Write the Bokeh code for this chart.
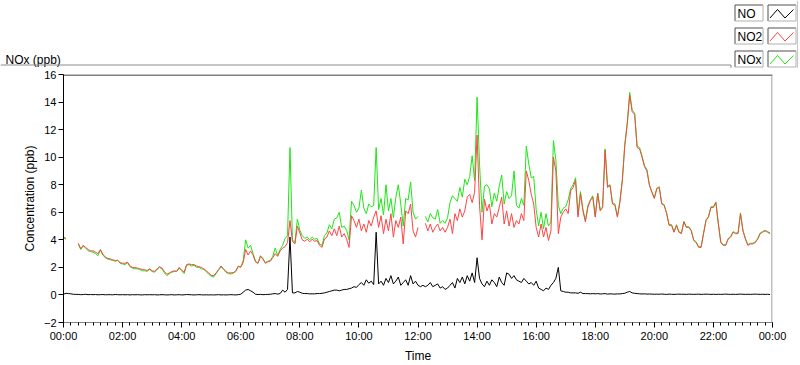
import numpy as np
from bokeh.plotting import figure
from bokeh.layouts import column
from bokeh.models import Range1d, FixedTicker, Arrow
from bokeh.core.properties import value
from bokeh.embed import file_html
from bokeh.resources import INLINE

nan = float("nan")

# ---------------- data (5-minute samples) -------------
SAMPLE_MINUTES = 5

NO2 = [
    4.2, 4.1, nan, 3.95, nan, nan, 3.75, 3.35, 3.6, 3.45, 3.3, 3.2,          # 00h
    3.2, 3.1, 3.0, 3.3, 2.95, 2.75, 2.65, 2.62, 2.55, 2.5, 2.52, 2.35,       # 01h
    2.3, 2.3, 2.38, 2.1, 2.0, 1.98, 1.95, 1.9, 1.85, 1.82, 1.78, 1.9,        # 02h
    1.75, 1.72, 1.88, 2.05, 1.95, 1.7, 1.5, 1.6, 1.7, 1.75, 1.72, 2.0,       # 03h
    1.8, 1.65, 2.2, 2.25, 2.2, 2.2, 2.1, 2.05, 2.0, 1.9, 1.75, 1.6,          # 04h
    1.42, 1.4, 1.6, 1.85, 2.1, 1.9, 1.7, 1.6, 1.6, 1.62, 1.75, 2.1,          # 05h
    2.0, 2.35, 3.3, 2.9, 3.2, 2.9, 2.4, 2.3, 2.8, 2.6, 2.3, 2.4,             # 06h
    2.45, 2.7, 3.0, 2.8, 3.2, 3.4, 3.5, 3.8, 5.4, 3.9, 3.7, 5.0,             # 07h
    4.5, 4.0, 3.9, 4.05, 3.85, 4.05, 3.9, 3.95, 3.6, 3.45, 4.05, 4.2,        # 08h
    4.65, 4.3, 4.8, 4.3, 5.0, 4.2, 4.45, 4.05, 3.45, 5.75, 5.4, 4.9,         # 09h
    5.5, 4.65, 5.15, 4.55, 5.4, 5.0, 5.65, 6.1, 4.9, 5.75, 4.45, 5.5,        # 10h
    4.65, 5.9, 4.2, 5.4, 4.9, 5.65, 3.7, 6.1, 5.9, 6.6, 4.65, 4.2,           # 11h
    4.9, nan, nan, 5.2, 4.65, 5.15, 4.55, 4.9, 5.15, 4.65, 4.9, 4.55,        # 12h
    4.9, 5.5, 4.45, 5.9, 5.4, 6.25, 5.65, 6.1, 7.1, 7.3, 6.7, 7.45,          # 13h
    11.6, 6.5, 4.0, 6.95, 6.1, 6.6, 5.15, 5.9, 5.65, 6.35, 7.1, 5.15,        # 14h
    6.1, 5.0, 5.9, 4.9, 5.4, 5.15, 5.9, 5.4, 9.0, 8.3, 7.3, 6.6,             # 15h
    4.9, 4.2, 5.15, 4.2, 4.9, 3.95, 4.65, 10.0, 9.0, 4.45, 5.65, 6.0,        # 16h
    6.25, 5.9, 7.55, 7.8, 8.3, 5.65, 7.35, 6.1, 5.3, 6.35, 6.85, 7.1,        # 17h
    5.65, 7.35, 6.1, 6.35, 10.5, 7.8, 7.95, 6.6, 6.5, 5.65, 6.7, 8.3,        # 18h
    10.85, 12.4, 14.5, 13.3, 13.1, 10.7, 10.6, 10.0, 9.3, 9.0, 7.95, 7.45,   # 19h
    7.0, 7.7, 7.8, 6.6, 6.5, 5.9, 5.05, 5.05, 4.55, 5.05, 4.55, 4.45,        # 20h
    5.3, 4.9, 4.9, 4.65, 3.95, 3.8, 3.45, 3.45, 4.45, 5.4, 5.65, 6.35,       # 21h
    6.35, 6.7, 5.15, 3.8, 3.6, 3.6, 4.05, 4.2, 4.55, 4.45, 4.45, 5.9,        # 22h
    4.65, 4.05, 3.6, 3.7, 3.7, 3.8, 4.05, 4.45, 4.55, 4.65, 4.55, 4.45,      # 23h
]

NOX = [
    4.15, 4.05, nan, 3.9, nan, nan, 3.7, 3.3, 3.55, 3.4, 3.2, 3.15,
    3.1, 3.0, 2.85, 3.25, 2.9, 2.7, 2.6, 2.55, 2.5, 2.45, 2.5, 2.3,
    2.25, 2.2, 2.35, 2.05, 1.95, 1.9, 1.9, 1.85, 1.75, 1.75, 1.72, 1.85,
    1.7, 1.65, 1.85, 2.0, 1.9, 1.6, 1.4, 1.55, 1.65, 1.7, 1.7, 1.95,
    1.75, 1.55, 2.15, 2.2, 2.1, 2.15, 2.0, 2.0, 1.9, 1.85, 1.7, 1.5,
    1.35, 1.3, 1.55, 1.8, 2.05, 1.85, 1.65, 1.55, 1.52, 1.58, 1.7, 2.05,
    2.05, 2.5, 4.0, 3.4, 3.6, 3.0, 2.45, 2.3, 2.85, 2.65, 2.35, 2.45,
    2.5, 2.8, 3.4, 2.85, 3.3, 3.6, 4.1, 4.3, 10.7, 4.0, 3.8, 5.5,
    4.7, 4.3, 4.1, 4.2, 4.0, 4.2, 4.05, 4.1, 3.7, 3.6, 4.3, 4.5,
    5.1, 4.8, 5.5, 5.6, 6.0, 4.9, 5.0, 4.7, 4.0, 6.8, 6.5, 6.0,
    6.3, 7.6, 6.3, 5.9, 6.6, 6.4, 6.5, 10.7, 6.2, 7.0, 5.8, 8.0,
    6.1, 7.0, 5.6, 7.1, 8.0, 6.6, 5.0, 7.0, 6.9, 8.2, 6.0, 5.5,
    5.7, nan, nan, 5.7, 5.3, 5.9, 5.6, 5.5, 6.2, 5.2, 5.4, 5.2,
    5.6, 6.7, 7.2, 7.0, 6.8, 7.8, 7.1, 8.4, 8.0, 8.6, 10.1, 8.3,
    14.35, 9.5, 6.0, 7.9, 8.0, 7.7, 6.4, 7.4, 6.8, 7.9, 8.7, 6.6,
    7.5, 7.0, 7.2, 9.0, 6.5, 6.3, 7.0, 6.5, 10.8, 9.5, 8.5, 8.6,
    6.2, 5.0, 6.0, 4.8, 5.9, 5.0, 5.3, 11.2, 9.8, 6.5, 5.9, 6.3,
    6.4, 6.9, 7.7, 8.0, 8.5, 5.8, 7.5, 6.2, 5.4, 6.5, 6.9, 7.2,
    5.7, 7.4, 6.2, 6.4, 10.6, 7.9, 8.0, 6.7, 6.6, 5.7, 6.8, 8.35,
    10.9, 12.5, 14.7, 13.4, 13.2, 10.8, 10.7, 10.1, 9.4, 9.1, 8.0, 7.5,
    7.05, 7.75, 7.85, 6.65, 6.55, 5.95, 5.1, 5.1, 4.6, 5.1, 4.6, 4.5,
    5.35, 4.95, 4.95, 4.7, 4.0, 3.85, 3.5, 3.5, 4.5, 5.45, 5.7, 6.4,
    6.4, 6.75, 5.2, 3.85, 3.65, 3.65, 4.1, 4.25, 4.6, 4.5, 4.5, 5.95,
    4.7, 4.1, 3.65, 3.75, 3.75, 3.85, 4.1, 4.5, 4.6, 4.7, 4.6, 4.5,
]

NO = [
    0.05, 0.12, 0.1, 0.08, 0.05, 0.04, 0.04, 0.02, 0.03, 0.05, 0.02, 0.03,
    0.02, 0.03, 0.01, 0.02, 0.03, 0.01, 0.02, 0.02, 0.01, 0.03, 0.02, 0.01,
    0.02, 0.01, 0.02, 0.0, 0.02, 0.01, 0.02, 0.01, 0.0, 0.02, 0.01, 0.02,
    0.01, 0.02, 0.0, 0.01, 0.02, 0.01, 0.0, 0.01, 0.02, 0.0, 0.01, 0.02,
    0.0, 0.01, 0.03, 0.02, 0.01, 0.0, 0.01, 0.02, 0.01, 0.0, 0.01, 0.0,
    0.01, 0.0, 0.01, 0.02, 0.0, 0.01, 0.0, 0.01, 0.02, 0.01, 0.0, 0.02,
    0.05, 0.2, 0.35, 0.4, 0.3, 0.2, 0.05, 0.03, 0.04, 0.02, 0.03, 0.04,
    0.05, 0.08, 0.1, 0.06, 0.1, 0.35, 0.2, 0.4, 4.2, 0.15, 0.15, 0.25,
    0.2, 0.12, 0.1, 0.1, 0.08, 0.08, 0.08, 0.1, 0.1, 0.12, 0.15, 0.2,
    0.25, 0.3, 0.35, 0.35, 0.3, 0.35, 0.4, 0.4, 0.45, 0.5, 0.6, 0.55,
    0.75, 0.9, 0.7, 1.1, 0.85, 1.0, 0.75, 4.55, 0.8, 1.0, 0.7, 1.2,
    0.9, 1.4, 0.8, 1.0, 1.3, 0.7, 0.9, 1.1, 0.7, 1.4, 0.8, 1.0,
    0.7, 0.6, 0.7, 0.6, 0.7, 0.9, 0.6, 0.7, 0.8, 0.5, 0.6, 0.4,
    0.5, 0.7, 0.9, 0.5, 1.2, 0.9, 1.3, 0.8, 1.4, 1.0, 1.6, 0.9,
    2.7, 1.2, 0.8, 0.6, 1.0, 0.7, 1.1, 0.9, 0.6, 1.3, 0.9, 0.7,
    1.6, 1.5, 1.2, 1.4, 1.1, 1.0, 0.9, 1.2, 1.0, 0.8, 0.9, 0.7,
    1.0, 0.5, 0.4, 0.3, 0.5, 0.4, 0.7, 0.9, 1.2, 2.0, 0.3, 0.25,
    0.2, 0.2, 0.15, 0.15, 0.15, 0.12, 0.2, 0.1, 0.1, 0.1, 0.08, 0.1,
    0.08, 0.1, 0.07, 0.08, 0.1, 0.06, 0.08, 0.07, 0.06, 0.08, 0.07, 0.1,
    0.12, 0.2, 0.25, 0.15, 0.12, 0.1, 0.08, 0.07, 0.08, 0.06, 0.07, 0.06,
    0.05, 0.06, 0.05, 0.07, 0.05, 0.04, 0.06, 0.05, 0.04, 0.05, 0.06, 0.05,
    0.05, 0.04, 0.06, 0.05, 0.04, 0.05, 0.06, 0.04, 0.05, 0.06, 0.05, 0.04,
    0.05, 0.04, 0.05, 0.04, 0.05, 0.06, 0.05, 0.04, 0.05, 0.04, 0.05, 0.06,
    0.05, 0.04, 0.05, 0.04, 0.05, 0.06, 0.05, 0.04, 0.05, 0.04, 0.05, 0.03,
]

X_TICKS_H = [0, 2, 4, 6, 8, 10, 12, 14, 16, 18, 20, 22, 24]
X_TICK_LABELS = ["00:00", "02:00", "04:00", "06:00", "08:00", "10:00", "12:00",
                 "14:00", "16:00", "18:00", "20:00", "22:00", "00:00"]
Y_TICKS = [-2, 0, 2, 4, 6, 8, 10, 12, 14, 16]

SERIES_NAMES = ["NO", "NO2", "NOx"]
SERIES_COLORS = ["#000000", "#ff4444", "#1ee614"]

FONT = "Liberation Sans"
W = 798
HEADER_H = 68

# ---------------- header: title + legend (pixel coordinates) ----------------
hdr = figure(width=W, height=HEADER_H, x_range=Range1d(0, W), y_range=Range1d(HEADER_H, 0),
             min_border_left=0, min_border_right=0, min_border_top=0, min_border_bottom=0,
             x_axis_type=None, y_axis_type=None,
             output_backend="svg", toolbar_location=None, tools="")
hdr.outline_line_color = None
hdr.background_fill_color = "white"
hdr.border_fill_color = "white"

hdr.text(x=[5], y=[59.5], text=["NOx (ppb)"], text_font=value(FONT),
         text_font_size=value("12px"), text_color="black", text_baseline="alphabetic",
         text_align="left")

# panel outlines
hdr.segment(x0=[0, 730.5, 797.5], y0=[64.5, 64.5, 0], x1=[730.5, 730.5, 797.5],
            y1=[64.5, 68, 68], line_color="#8c8c8c", line_width=1)

row_tops = [4, 27, 50]
bh = 17
dark, light = "#505050", "#b0b0b0"
for name, color, top in zip(SERIES_NAMES, SERIES_COLORS, row_tops):
    for left, w in ((734, 29), (767, 29)):
        l, r, t, b = left + 0.5, left + w - 0.5, top + 0.5, top + bh - 0.5
        hdr.segment(x0=[l, l], y0=[t, t], x1=[r, l], y1=[t, b], line_color=dark, line_width=1)
        hdr.segment(x0=[l, r], y0=[b, t], x1=[r, r], y1=[b, b], line_color=light, line_width=1)
    hdr.text(x=[737], y=[top + 9], text=[name], text_font=value(FONT),
             text_font_size=value("12px"), text_color="black", text_baseline="middle",
             text_align="left")
    il = 767
    hdr.line(x=[il + 2.5, il + 10, il + 17.5, il + 26], y=[top + 13.5, top + 5, top + 13.5, top + 5],
             line_color=color, line_width=1)

# ---------------- main chart ----------------
hours = np.arange(len(NO2)) * SAMPLE_MINUTES / 60.0

p = figure(frame_width=709, frame_height=248,
           min_border_left=63, min_border_right=W - 63 - 709,
           min_border_top=6, min_border_bottom=42,
           x_range=Range1d(0, 24), y_range=Range1d(-2, 16),
           output_backend="svg", toolbar_location=None, tools="")
p.background_fill_color = "white"
p.border_fill_color = "white"
p.outline_line_color = None
p.xgrid.grid_line_color = None
p.ygrid.grid_line_color = None

# do not let the layout align the header's frame with the chart's frame
for fig in (hdr, p):
    if "frame_align" in fig.properties():
        fig.frame_align = False

p.line(hours, NOX, line_color=SERIES_COLORS[2], line_width=1)
p.line(hours, NO2, line_color=SERIES_COLORS[1], line_width=1)
p.line(hours, NO, line_color=SERIES_COLORS[0], line_width=1)

xa = p.xaxis[0]
xa.ticker = FixedTicker(ticks=X_TICKS_H, minor_ticks=[i * 0.25 for i in range(97)])
xa.major_label_overrides = {t: lab for t, lab in zip(X_TICKS_H, X_TICK_LABELS)}
xa.axis_line_color = "#808080"
xa.major_tick_line_color = "black"
xa.minor_tick_line_color = "black"
xa.major_tick_out = 5
xa.major_tick_in = 0
xa.minor_tick_out = 3
xa.minor_tick_in = 0
xa.major_label_standoff = 2
xa.major_label_text_font = FONT
xa.major_label_text_font_size = "11px"
xa.major_label_text_color = "black"
xa.axis_label = "Time"
xa.axis_label_text_font = FONT
xa.axis_label_text_font_size = "12px"
xa.axis_label_text_font_style = "normal"
xa.axis_label_text_color = "black"
xa.axis_label_standoff = 4

ya = p.yaxis[0]
ya.ticker = FixedTicker(ticks=Y_TICKS)
ya.axis_line_color = "black"
ya.major_tick_line_color = "black"
ya.minor_tick_line_color = None
ya.major_tick_out = 5
ya.major_tick_in = 0
ya.major_label_standoff = 2
ya.major_label_text_font = FONT
ya.major_label_text_font_size = "11px"
ya.major_label_text_color = "black"
ya.axis_label = "Concentration (ppb)"
ya.axis_label_text_font = FONT
ya.axis_label_text_font_size = "12px"
ya.axis_label_text_font_style = "normal"
ya.axis_label_text_color = "black"
ya.axis_label_standoff = 4

# frame edges (screen units relative to the frame): top black, right gray
for (x0, y0, x1, y1, c) in ((0, 247.5, 709, 247.5, "black"),
                            (708.5, 0, 708.5, 248, "#808080")):
    p.add_layout(Arrow(end=None, x_start=x0, y_start=y0, x_end=x1, y_end=y1,
                       start_units="screen", end_units="screen",
                       line_color=c, line_width=1))

layout = column(hdr, p)
open("out.html", "w").write(file_html(layout, INLINE))
